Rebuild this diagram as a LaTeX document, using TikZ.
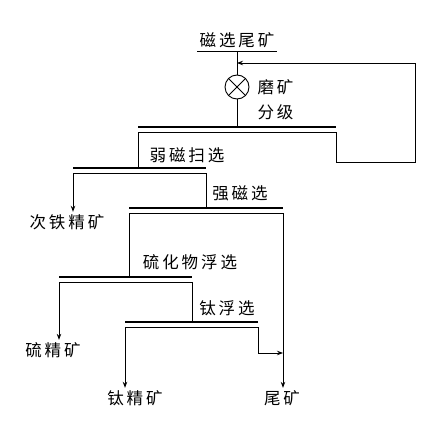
\documentclass[tikz,border=0pt]{standalone}
\usepackage{fontspec}
\setmainfont[LetterSpace=18]{Noto Sans CJK SC}
\usetikzlibrary{calc,arrows.meta}

\begin{document}
\begin{tikzpicture}[x=1pt, y=-1pt, font=\fontsize{16.5}{25}\selectfont,
        flow/.style={line width=0.9pt},
        arr/.style={flow, -{Stealth[length=6pt, width=4.5pt]}},
        upper/.style={line width=2.6pt},
        lower/.style={line width=0.9pt},
        mill/.style={draw, line width=0.9pt, circle, minimum size=24pt, inner sep=0pt,
            path picture={\draw[line width=0.9pt] (path picture bounding box.north west) -- (path picture bounding box.south east)
                (path picture bounding box.north east) -- (path picture bounding box.south west);}}]
        \useasboundingbox (0, 0) rectangle (426, 428);

        % feed and grinding
        \node[inner xsep=2pt] (feed) at (237, 40) {磁选尾矿};
        \draw[flow] (feed.south west) -- (feed.south east);
        \node[mill] (mill) at (237, 87) {};
        \node[anchor=west, align=left] (grind) at (254, 100) {磨矿\\分级};

        % separation bars
        \foreach \n/\l/\r/\y in {1/138/336/127, 2/73/206/168, 3/129/283/208, 4/59/192/277, 5/125/258/322} {
            \coordinate (b\n l) at (\l, \y);
            \coordinate (b\n r) at (\r, \y);
            \coordinate (c\n l) at (\l, \y+5);
            \coordinate (c\n r) at (\r, \y+5);
            \draw[upper] (b\n l) -- (b\n r);
            \draw[lower] (c\n l) -- (c\n r);
        }

        \node (weak) at (187, 155) {弱磁扫选};
        \node (strong) at (240, 193) {强磁选};
        \node (sulf) at (190, 262) {硫化物浮选};
        \node (tifl) at (227, 308) {钛浮选};

        \node (fecon) at (67, 222) {次铁精矿};
        \node (scon) at (53, 350) {硫精矿};
        \node (ticon) at (135, 398) {钛精矿};
        \node (tail) at (282, 398) {尾矿};

        % connections
        \draw[flow] (feed.south) -- (mill.north);
        \draw[flow] (mill.south) -- (b1l -| mill);
        \coordinate (ret) at (415, 63);
        \draw[arr] (c1r) |- (415, 162) -- (ret) -- (ret -| feed.south);
        \draw[flow] (c1l) -- (b2l -| c1l);
        \draw[arr] (c2l) -- ($(fecon.north -| c2l)+(0, 1)$);
        \draw[flow] (c2r) -- (b3l -| c2r);
        \draw[flow] (c3l) -- (b4l -| c3l);
        \draw[arr] (c3r) -- ($(tail.north -| c3r)+(0, 1)$);
        \draw[arr] (c4l) -- ($(scon.north -| c4l)+(0, 1)$);
        \draw[flow] (c4r) -- (b5l -| c4r);
        \draw[arr] (c5l) -- ($(ticon.north -| c5l)+(0, 1)$);
        \draw[arr] (c5r) |- (283, 353);
    \end{tikzpicture}
\end{document}
